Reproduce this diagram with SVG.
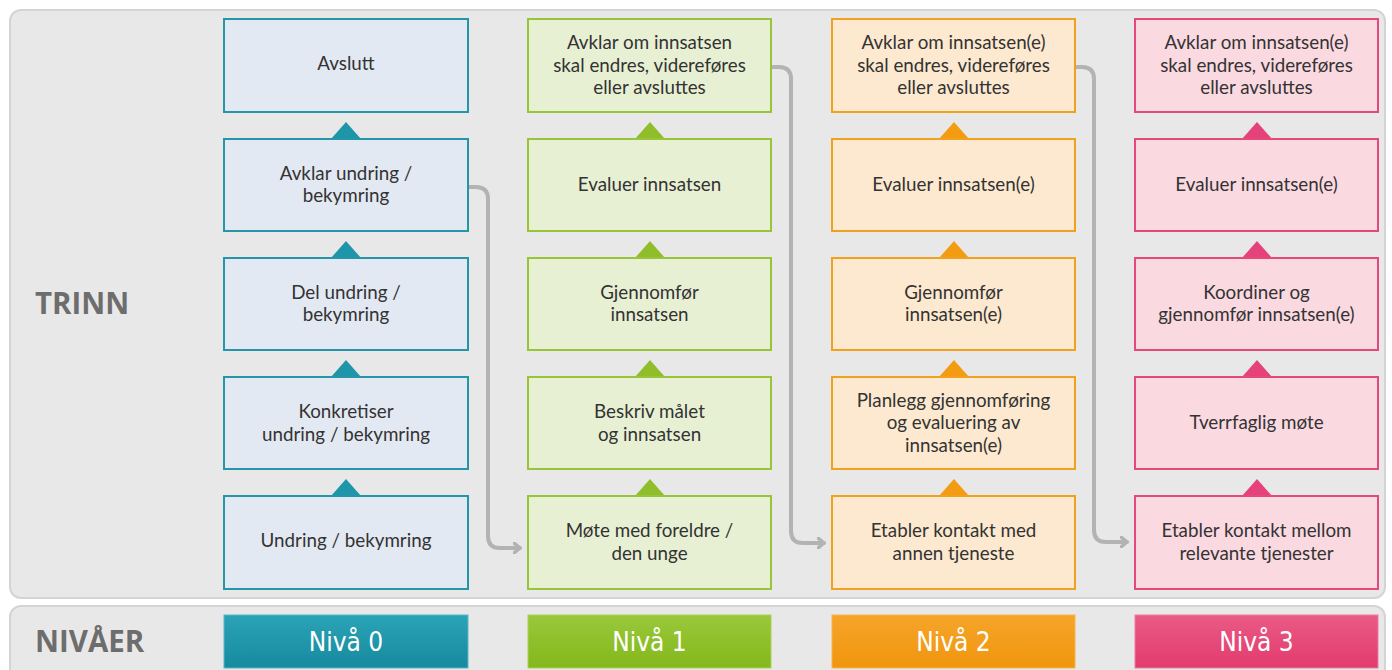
<svg xmlns="http://www.w3.org/2000/svg" width="1392" height="670" viewBox="0 0 1392 670">
<defs>
<style>
.t{font-family:Lato,"Open Sans","Liberation Sans",sans-serif;font-size:18.8px;fill:#333;text-anchor:middle}
.hd{font-family:"Open Sans","Liberation Sans",sans-serif;font-weight:bold;font-size:29.5px;fill:#6d6d6d}
.nv{font-family:"DejaVu Sans Condensed","DejaVu Sans",sans-serif;font-stretch:condensed;font-size:26px;fill:#fff;text-anchor:middle}
.c0{fill:#e3e9f2;stroke:#2596a8;stroke-width:2}
.c1{fill:#e8f0d4;stroke:#98c43a;stroke-width:2}
.c2{fill:#fde9cf;stroke:#f2a11f;stroke-width:2}
.c3{fill:#fbd9e1;stroke:#e5497a;stroke-width:2}
.a0{fill:#1e95a8}.a1{fill:#8fbe2a}.a2{fill:#f39c12}.a3{fill:#e5417a}
.cn{fill:none;stroke:#b3b3b3;stroke-width:4;stroke-linecap:round;stroke-linejoin:round}
</style>
<marker id="ah" markerWidth="10" markerHeight="12" refX="7" refY="6" orient="auto" markerUnits="userSpaceOnUse">
<polyline points="1,1 7,6 1,11" fill="none" stroke="#b3b3b3" stroke-width="3.5" stroke-linecap="round" stroke-linejoin="round"/>
</marker>
<linearGradient id="g0" x1="0" y1="0" x2="0" y2="1"><stop offset="0" stop-color="#2ba3b6"/><stop offset="1" stop-color="#168a9e"/></linearGradient>
<linearGradient id="g1" x1="0" y1="0" x2="0" y2="1"><stop offset="0" stop-color="#99c83a"/><stop offset="1" stop-color="#84b81c"/></linearGradient>
<linearGradient id="g2" x1="0" y1="0" x2="0" y2="1"><stop offset="0" stop-color="#f6a42a"/><stop offset="1" stop-color="#f0960d"/></linearGradient>
<linearGradient id="g3" x1="0" y1="0" x2="0" y2="1"><stop offset="0" stop-color="#ea5a85"/><stop offset="1" stop-color="#e23b6e"/></linearGradient>
</defs>
<rect width="1392" height="670" fill="#ffffff"/>
<g id="panel-trinn">
<rect x="10" y="10" width="1375" height="588" rx="11" fill="#e9e8e9" stroke="#d4d4d4" stroke-width="2"/>
<text class="hd" x="35" y="314">TRINN</text>
</g>
<g id="panel-nivaer">
<rect x="10" y="606" width="1375" height="80" rx="11" fill="#e9e8e9" stroke="#d4d4d4" stroke-width="2"/>
<text class="hd" x="35" y="652">NIVÅER</text>
</g>

<g id="connectors">
<path class="cn" d="M469,187 H476 Q488,187 488,199 V536 Q488,548 500,548 H520" marker-end="url(#ah)"/>
<path class="cn" d="M772,67 H779 Q791,67 791,79 V531 Q791,543 803,543 H824" marker-end="url(#ah)"/>
<path class="cn" d="M1076,67 H1082 Q1094,67 1094,79 V530 Q1094,542 1106,542 H1127" marker-end="url(#ah)"/>
</g>

<g id="arrows0" class="a0">
<polygon points="331,139 346,122 361,139"/><polygon points="331,258 346,241 361,258"/><polygon points="331,377 346,360 361,377"/><polygon points="331,496 346,479 361,496"/>
</g>
<g id="arrows1" class="a1">
<polygon points="635,139 650,122 665,139"/><polygon points="635,258 650,241 665,258"/><polygon points="635,377 650,360 665,377"/><polygon points="635,496 650,479 665,496"/>
</g>
<g id="arrows2" class="a2">
<polygon points="939,139 954,122 969,139"/><polygon points="939,258 954,241 969,258"/><polygon points="939,377 954,360 969,377"/><polygon points="939,496 954,479 969,496"/>
</g>
<g id="arrows3" class="a3">
<polygon points="1242,139 1257,122 1272,139"/><polygon points="1242,258 1257,241 1272,258"/><polygon points="1242,377 1257,360 1272,377"/><polygon points="1242,496 1257,479 1272,496"/>
</g>

<!-- Column 0 -->
<g id="n0-avslutt"><rect class="c0" x="224" y="19" width="244" height="93"/><text class="t" x="346" y="70">Avslutt</text></g>
<g id="n0-avklar"><rect class="c0" x="224" y="139" width="244" height="92"/><text class="t" x="346" y="180">Avklar undring /</text><text class="t" x="346" y="202">bekymring</text></g>
<g id="n0-del"><rect class="c0" x="224" y="258" width="244" height="92"/><text class="t" x="346" y="299">Del undring /</text><text class="t" x="346" y="321">bekymring</text></g>
<g id="n0-konkretiser"><rect class="c0" x="224" y="377" width="244" height="92"/><text class="t" x="346" y="418">Konkretiser</text><text class="t" x="346" y="441">undring / bekymring</text></g>
<g id="n0-undring"><rect class="c0" x="224" y="496" width="244" height="93"/><text class="t" x="346" y="547">Undring / bekymring</text></g>

<!-- Column 1 -->
<g id="n1-avklar"><rect class="c1" x="528" y="19" width="243" height="93"/><text class="t" x="649.5" y="49">Avklar om innsatsen</text><text class="t" x="649.5" y="72">skal endres, videreføres</text><text class="t" x="649.5" y="94">eller avsluttes</text></g>
<g id="n1-evaluer"><rect class="c1" x="528" y="139" width="243" height="92"/><text class="t" x="649.5" y="191">Evaluer innsatsen</text></g>
<g id="n1-gjennomfor"><rect class="c1" x="528" y="258" width="243" height="92"/><text class="t" x="649.5" y="299">Gjennomfør</text><text class="t" x="649.5" y="321">innsatsen</text></g>
<g id="n1-beskriv"><rect class="c1" x="528" y="377" width="243" height="92"/><text class="t" x="649.5" y="418">Beskriv målet</text><text class="t" x="649.5" y="441">og innsatsen</text></g>
<g id="n1-mote"><rect class="c1" x="528" y="496" width="243" height="93"/><text class="t" x="649.5" y="537">Møte med foreldre /</text><text class="t" x="649.5" y="560">den unge</text></g>

<!-- Column 2 -->
<g id="n2-avklar"><rect class="c2" x="832" y="19" width="243" height="93"/><text class="t" x="953.5" y="49">Avklar om innsatsen(e)</text><text class="t" x="953.5" y="72">skal endres, videreføres</text><text class="t" x="953.5" y="94">eller avsluttes</text></g>
<g id="n2-evaluer"><rect class="c2" x="832" y="139" width="243" height="92"/><text class="t" x="953.5" y="191">Evaluer innsatsen(e)</text></g>
<g id="n2-gjennomfor"><rect class="c2" x="832" y="258" width="243" height="92"/><text class="t" x="953.5" y="299">Gjennomfør</text><text class="t" x="953.5" y="321">innsatsen(e)</text></g>
<g id="n2-planlegg"><rect class="c2" x="832" y="377" width="243" height="92"/><text class="t" x="953.5" y="407">Planlegg gjennomføring</text><text class="t" x="953.5" y="429">og evaluering av</text><text class="t" x="953.5" y="452">innsatsen(e)</text></g>
<g id="n2-etabler"><rect class="c2" x="832" y="496" width="243" height="93"/><text class="t" x="953.5" y="537">Etabler kontakt med</text><text class="t" x="953.5" y="560">annen tjeneste</text></g>

<!-- Column 3 -->
<g id="n3-avklar"><rect class="c3" x="1135" y="19" width="243" height="93"/><text class="t" x="1256.5" y="49">Avklar om innsatsen(e)</text><text class="t" x="1256.5" y="72">skal endres, videreføres</text><text class="t" x="1256.5" y="94">eller avsluttes</text></g>
<g id="n3-evaluer"><rect class="c3" x="1135" y="139" width="243" height="92"/><text class="t" x="1256.5" y="191">Evaluer innsatsen(e)</text></g>
<g id="n3-koordiner"><rect class="c3" x="1135" y="258" width="243" height="92"/><text class="t" x="1256.5" y="299">Koordiner og</text><text class="t" x="1256.5" y="321">gjennomfør innsatsen(e)</text></g>
<g id="n3-tverrfaglig"><rect class="c3" x="1135" y="377" width="243" height="92"/><text class="t" x="1256.5" y="429">Tverrfaglig møte</text></g>
<g id="n3-etabler"><rect class="c3" x="1135" y="496" width="243" height="93"/><text class="t" x="1256.5" y="537">Etabler kontakt mellom</text><text class="t" x="1256.5" y="560">relevante tjenester</text></g>

<!-- Level bars -->
<g id="niva0"><rect x="224" y="615" width="244" height="53" fill="url(#g0)" stroke="#5cb6c6" stroke-width="1"/><text class="nv" x="346" y="651">Nivå 0</text></g>
<g id="niva1"><rect x="528" y="615" width="243" height="53" fill="url(#g1)" stroke="#a9d25a" stroke-width="1"/><text class="nv" x="649.5" y="651">Nivå 1</text></g>
<g id="niva2"><rect x="832" y="615" width="243" height="53" fill="url(#g2)" stroke="#f7b44d" stroke-width="1"/><text class="nv" x="953.5" y="651">Nivå 2</text></g>
<g id="niva3"><rect x="1135" y="615" width="243" height="53" fill="url(#g3)" stroke="#ef7ba0" stroke-width="1"/><text class="nv" x="1256.5" y="651">Nivå 3</text></g>
</svg>
